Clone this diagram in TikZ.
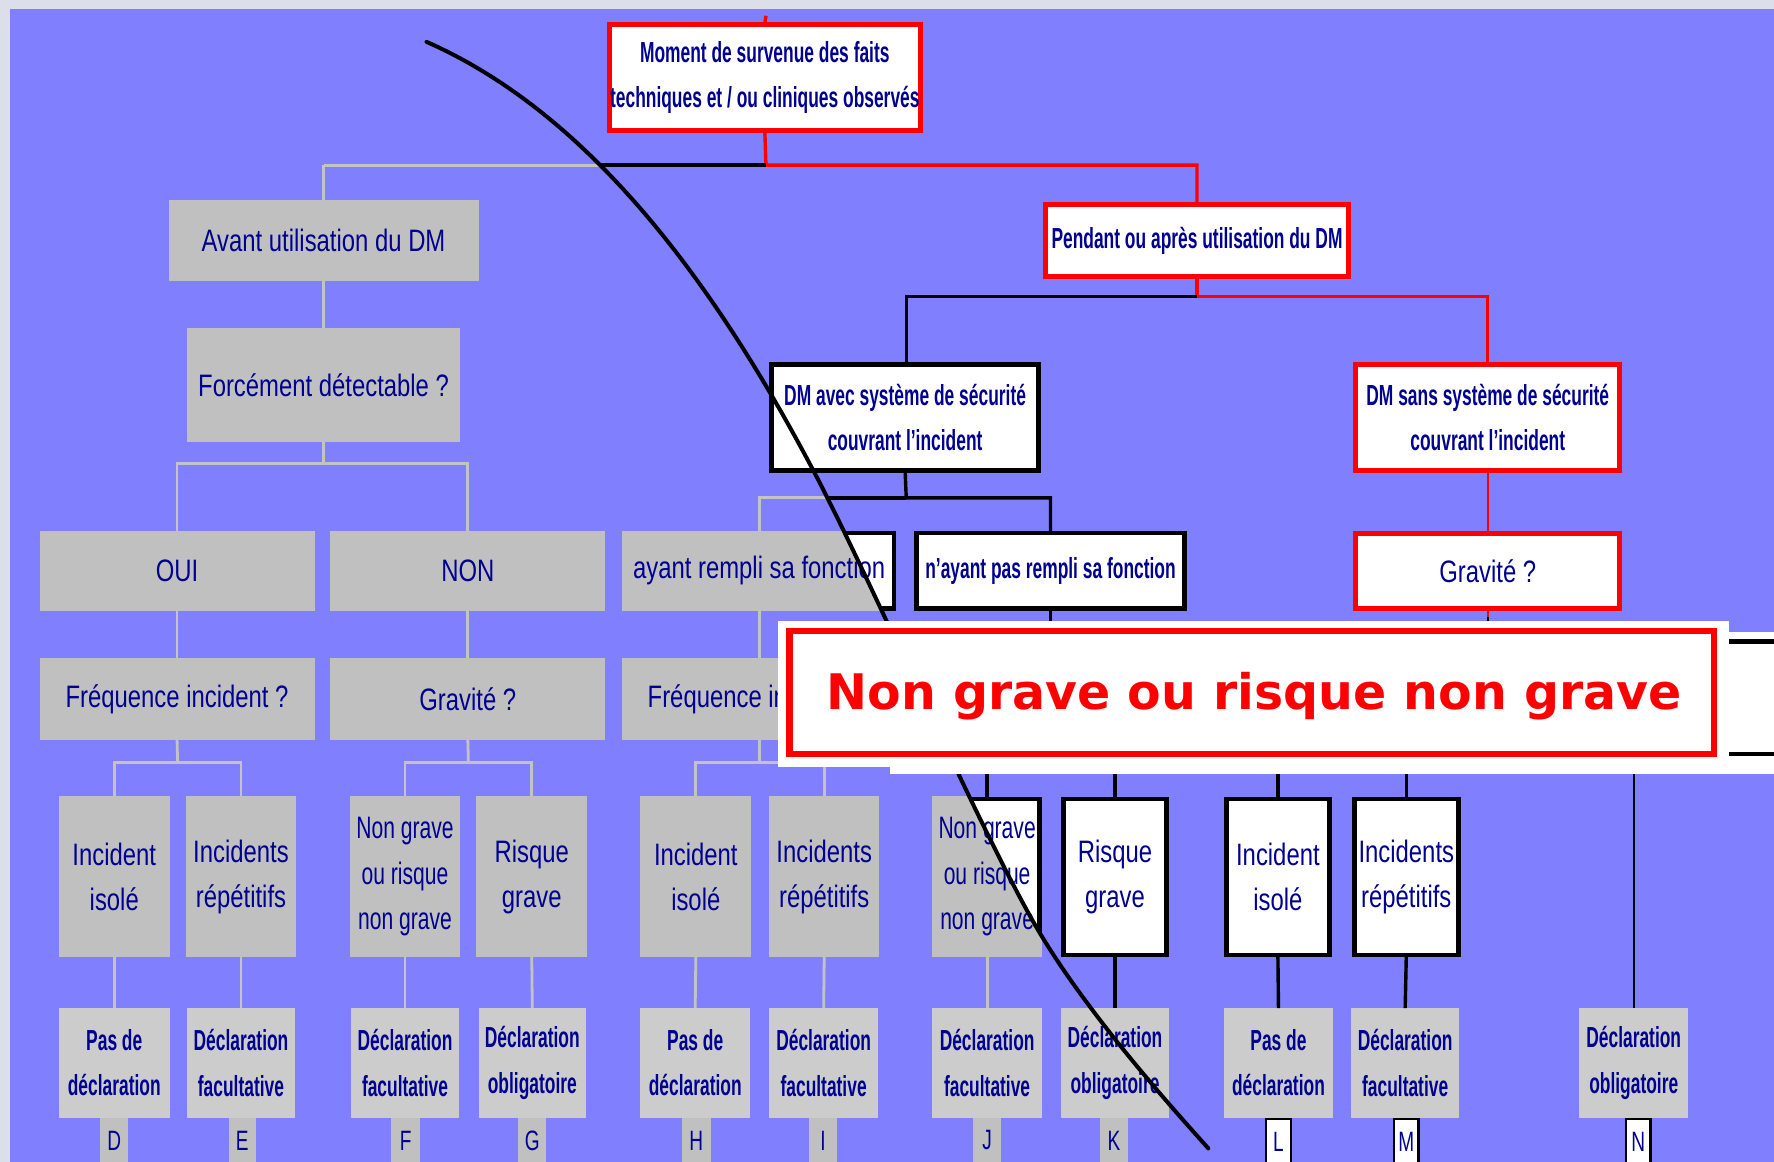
\documentclass[tikz,border=0pt]{standalone}
\usepackage{fontspec}
\newfontfamily\fa[FakeStretch=0.77]{Liberation Sans}
\newfontfamily\fb[FakeStretch=0.60]{Liberation Sans Bold}
\newfontfamily\fc[FakeStretch=0.68]{Liberation Sans}
\newfontfamily\fo{DejaVu Sans Bold}
\newcommand\txtA{\fa\fontsize{31}{45.3}\selectfont}
\newcommand\txtB{\fb\fontsize{29}{45.3}\selectfont}
\newcommand\txtC{\fc\fontsize{31}{45.3}\selectfont}
\newcommand\txtL{\fc\fontsize{28}{30}\selectfont}
\newcommand\txtO{\fo\fontsize{49}{55}\selectfont}
\definecolor{slide}{RGB}{128,128,255}
\definecolor{frame}{RGB}{220,222,234}
\definecolor{txt}{RGB}{0,0,145}
\definecolor{boxgray}{RGB}{192,192,192}
\definecolor{botgray}{RGB}{204,204,204}
\definecolor{linegray}{RGB}{195,195,195}
% box from its corners (x1,y1)-(x2,y2): name, style, x1, y1, x2, y2, text
\newcommand\mkbox[7]{\node[#2,minimum width={(#5-#3)*1.1314pt},minimum height={(#6-#4)*1.1314pt}] (#1) at ({(#3+#5)/2},{(#4+#6)/2}) {#7};}
% the wipe line that separates the greyed state from the active one
\newcommand\wipecurve{(377,37) .. controls (520,100) and (630,247) .. (720,418) .. controls (770,513) and (860,721) .. (914,816) .. controls (954,886) and (1023,965) .. (1068,1015)}
\tikzset{
  every node/.style={inner sep=0pt,outer sep=0pt,align=center,text=txt},
  gb/.style={fill=boxgray,font=\txtA},
  wb/.style={fill=white,draw=black,line width=4.5pt,font=\txtA},
  rb/.style={fill=white,draw=red,line width=5pt,font=\txtB},
  lb/.style={fill=botgray,font=\txtB},
  gtab/.style={fill=boxgray,font=\txtL},
  wtab/.style={fill=white,draw=black,line width=2.6pt,font=\txtL},
  gl/.style={draw=linegray,line width=2.8pt},
  bl/.style={draw=black,line width=3.4pt},
  blthin/.style={draw=black,line width=2.2pt},
  rl/.style={draw=red,line width=3.4pt},
  rlthin/.style={draw=red,line width=1.8pt},
  wipe/.style={draw=black,line width=4pt,line cap=round},
}
\begin{document}
\begin{tikzpicture}[x=1.1314pt,y=-1.1314pt]
\useasboundingbox (0,0) rectangle (1568,1027);
\clip (0,0) rectangle (1568,1027);
\fill[frame] (0,0) rectangle (1568,1027);
\fill[slide] (8.5,8) rectangle (1568,1027);

% ---------- greyed branch: before use ----------
\mkbox{avant}{gb}{149}{177}{423}{248}{Avant utilisation du DM}
\mkbox{force}{gb}{165}{290}{407}{391}{Forcément détectable ?}
\mkbox{oui}{gb}{35}{469}{278}{540}{OUI}
\mkbox{non}{gb}{292}{469}{535}{540}{NON}
\mkbox{freqA}{gb}{35}{582}{278}{654}{Fréquence incident ?}
\mkbox{gravA}{gb}{292}{582}{535}{654}{Gravité ?}
\mkbox{isoD}{gb}{52}{704}{150}{846}{Incident\\isolé}
\mkbox{repE}{gb}{164}{704}{262}{846}{Incidents\\répétitifs}
\mkbox{ngF}{gb,font=\txtC}{309}{704}{407}{846}{Non grave\\ou risque\\non grave}
\mkbox{rgG}{gb}{421}{704}{519}{846}{Risque\\grave}
% greyed branch: device that worked
\begin{scope}
\clip (0,0) rectangle (688,1027);
\mkbox{freqB}{gb}{550}{582}{792}{654}{Fréquence incident ?}
\end{scope}
\mkbox{isoH}{gb}{566}{704}{664}{846}{Incident\\isolé}
\mkbox{repI}{gb}{680}{704}{777}{846}{Incidents\\répétitifs}

% ---------- active branch ----------
\mkbox{top}{rb}{538.5}{21.5}{813.5}{115.5}{Moment de survenue des faits\\techniques et / ou cliniques observés}
\mkbox{pend}{rb}{924.5}{180.5}{1191.5}{244.5}{Pendant ou après utilisation du DM}
\mkbox{dmsans}{rb}{1198.5}{322.5}{1431.5}{415.5}{DM sans système de sécurité\\couvrant l’incident}
\mkbox{gravR}{rb,font=\txtA}{1198.5}{471.5}{1431.5}{537.5}{Gravité ?}
\mkbox{nayant}{wb,font=\txtB}{810}{471}{1047}{538}{n’ayant pas rempli sa fonction}
\mkbox{rgK}{wb}{940}{706}{1031}{844}{Risque\\grave}
\mkbox{isoL}{wb}{1084}{706}{1175}{844}{Incident\\isolé}
\mkbox{repM}{wb}{1197}{706}{1289}{844}{Incidents\\répétitifs}

% ---------- outcomes ----------
\mkbox{botD}{lb}{52}{891}{150}{988}{Pas de\\déclaration}
\mkbox{botE}{lb}{165}{891}{261}{988}{Déclaration\\facultative}
\mkbox{botF}{lb}{310}{891}{406}{988}{Déclaration\\facultative}
\mkbox{botG}{lb}{423}{891}{518}{988}{Déclaration\\obligatoire}
\mkbox{botH}{lb}{566}{891}{663}{988}{Pas de\\déclaration}
\mkbox{botI}{lb}{680}{891}{776}{988}{Déclaration\\facultative}
\mkbox{botJ}{lb}{824}{891}{921}{988}{Déclaration\\facultative}
\mkbox{botK}{lb}{938}{891}{1033}{988}{Déclaration\\obligatoire}
\mkbox{botL}{lb}{1082}{891}{1178}{988}{Pas de\\déclaration}
\mkbox{botM}{lb}{1194}{891}{1290}{988}{Déclaration\\facultative}
\mkbox{botN}{lb}{1396}{891}{1492}{988}{Déclaration\\obligatoire}
\mkbox{tabD}{gtab}{88.5}{988}{113.5}{1028}{D}
\mkbox{tabE}{gtab}{202}{988}{226}{1028}{E}
\mkbox{tabF}{gtab}{346}{988}{371}{1028}{F}
\mkbox{tabG}{gtab}{458}{988}{483}{1028}{G}
\mkbox{tabH}{gtab}{603}{988}{628}{1028}{H}
\mkbox{tabI}{gtab}{715}{988}{740}{1028}{I}
\mkbox{tabJ}{gtab}{860}{988}{885}{1028}{J}
\mkbox{tabK}{gtab}{972}{988}{997}{1028}{K}
\mkbox{tabL}{wtab}{1119}{989}{1141}{1030}{L}
\mkbox{tabM}{wtab}{1232}{989}{1254}{1030}{M}
\mkbox{tabN}{wtab}{1437}{989}{1459}{1030}{N}

% ---------- junctions ----------
\coordinate (t0) at (677,14);
\coordinate (j0) at (677,146);
\coordinate (j1) at (286,410);
\coordinate (j2) at (157,674);
\coordinate (j3) at (414,674);
\coordinate (j4) at (671,674);
\coordinate (j5) at (1058,262);
\coordinate (j6) at (801,440);
\coordinate (uB) at (928.5,600);
\coordinate (uR) at (1315,545);
\coordinate (uR2) at (1315,560);
\coordinate (uJ) at (872.5,660);
\coordinate (uK) at (985.5,660);
\coordinate (uL) at (1129.5,660);
\coordinate (uM) at (1243,660);
\coordinate (uN) at (1444,660);

% greyed connectors
\draw[gl] (j0 -| avant.north) -- (avant.north);
\draw[gl] (avant.south) -- (force.north);
\draw[gl] (force.south) -- (j1);
\draw[gl] (oui.north) |- (j1) -| (non.north);
\draw[gl] (oui.south) -- (freqA.north);
\draw[gl] (non.south) -- (gravA.north);
\draw[gl] (freqA.south) -- (j2);
\draw[gl] (isoD.north) |- (j2) -| (repE.north);
\draw[gl] (gravA.south) -- (j3);
\draw[gl] (ngF.north) |- (j3) -| (rgG.north);
\draw[gl] (freqB.north) -- ++(0,-42);
\draw[gl] (freqB.south) -- (j4);
\draw[gl] (isoH.north) |- (j4) -| (repI.north);
\draw[gl] (isoD.south) -- (botD.north);
\draw[gl] (repE.south) -- (botE.north);
\draw[gl] (ngF.south) -- (botF.north);
\draw[gl] (rgG.south) -- (botG.north);
\draw[gl] (isoH.south) -- (botH.north);
\draw[gl] (repI.south) -- (botI.north);

% active connectors
\draw[rl] (t0) -- (top.north);
\draw[rl] (top.south) -- (j0) -| (pend.north);
\draw[rl] (pend.south) -- (j5) -| (dmsans.north);
\draw[rlthin] (dmsans.south) -- (gravR.north);
\draw[rlthin] (gravR.south) -- (uR);
\draw[blthin] (uR) -- (uR2);
\draw[bl] (nayant.south) -- (uB);
\draw[bl] (uJ) -- (872.5,706);
\draw[bl] (uK) -- (rgK.north);
\draw[bl] (uL) -- (isoL.north);
\draw[bl] (uM) -- (repM.north);
\draw[blthin] (uN) -- (botN.north);
\draw[bl] (rgK.south) -- (botK.north);
\draw[bl] (isoL.south) -- (botL.north);
\draw[bl] (repM.south) -- (botM.north);

% ---------- pieces cut by the wipe ----------
\begin{scope}
\clip \wipecurve -- (1080,1040) -- (-20,1040) -- (-20,-20) -- (377,-20) -- cycle;
\draw[gl] (j0) -- (j0 -| avant.north);
\mkbox{ayant}{gb}{550}{469}{792}{540}{ayant rempli sa fonction}
\draw[gl] (j6) -| (ayant.north);
\mkbox{ngJ}{gb,font=\txtC}{824}{704}{921}{846}{Non grave\\ou risque\\non grave}
\draw[gl] (ngJ.south) -- (botJ.north);
\end{scope}
\begin{scope}
\clip \wipecurve -- (1080,1040) -- (1620,1040) -- (1620,-20) -- (377,-20) -- cycle;
\draw[bl] (j0) -- (j0 -| avant.north);
\mkbox{ayant}{wb}{552}{471}{790}{538}{ayant rempli sa fonction}
\draw[bl] (j6) -| (ayant.north);
\mkbox{ngJ}{wb,font=\txtC}{826}{706}{919}{844}{Non grave\\ou risque\\non grave}
\end{scope}

% device with safety system (drawn whole)
\draw[bl] (j5) -| (801,322);
\mkbox{dmavec}{wb,font=\txtB}{682}{322}{918}{416}{DM avec système de sécurité\\couvrant l’incident}
\draw[bl] (dmavec.south) -- (j6) -| (nayant.north);

% ---------- the wipe curve ----------
\draw[wipe] \wipecurve;

% ---------- call-out ----------
\fill[white] (787,559) rectangle (1620,684);
\draw[black,line width=4.5pt] (700,567) rectangle (1640,666.5);
\fill[white] (688,549) rectangle (1528,678);
\node[draw=red,line width=6.2pt,fill=white,minimum width={(1515.2-697.8)*1.1314pt},minimum height={(666.2-557.8)*1.1314pt}] (alert) at ({(697.8+1515.2)/2},{(557.8+666.2)/2}) {};
\node[font=\txtO,text=red,anchor=base] (alerttxt) at (1108.5,627) {Non grave ou risque non grave};
\end{tikzpicture}
\end{document}
